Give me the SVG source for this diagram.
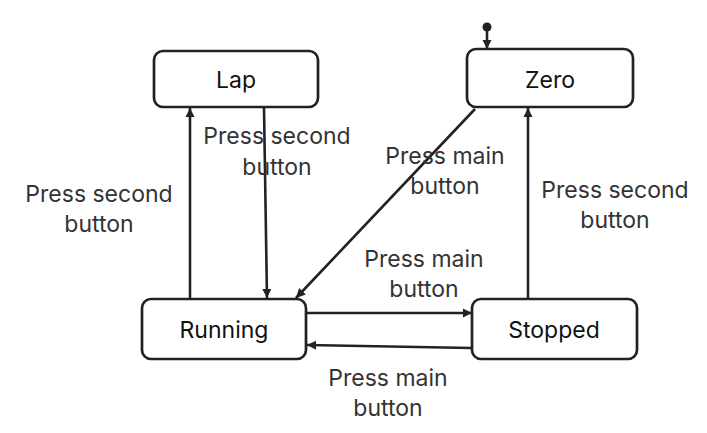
<svg xmlns="http://www.w3.org/2000/svg" width="707" height="433" viewBox="0 0 707 433">
<style>
.node rect{fill:#fff;stroke:#222;stroke-width:2.7}
.node text{font-family:Inter,"Liberation Sans",sans-serif;font-size:23px;fill:#111;text-anchor:middle}
.edge{fill:none;stroke:#222;stroke-width:2.6;marker-end:url(#arr)}
.lbl{font-family:Inter,"Liberation Sans",sans-serif;font-size:23px;fill:#333;text-anchor:middle}
</style>
<defs>
<marker id="arr" viewBox="0 0 10 10" refX="10" refY="5" markerWidth="3.6" markerHeight="3.6" orient="auto" markerUnits="strokeWidth">
<path d="M0,0 L10,5 L0,10 z" fill="#222"/>
</marker>
</defs>
<rect width="707" height="433" fill="#fff"/>
<g id="connectors">
<circle cx="487" cy="27" r="4.5" fill="#222"/>
<path class="edge" d="M487,31 L487,49"/>
<path class="edge" d="M190,299 L190,108"/>
<path class="edge" d="M264,108 L267,298"/>
<path class="edge" d="M475,109 L296,298"/>
<path class="edge" d="M306,313 L472,313"/>
<path class="edge" d="M472,348 L307,345"/>
<path class="edge" d="M528,299 L528,108"/>
</g>
<g id="labels">
<text class="lbl" x="99" y="202">Press second</text>
<text class="lbl" x="99" y="232">button</text>
<text class="lbl" x="277" y="144">Press second</text>
<text class="lbl" x="277" y="175">button</text>
<text class="lbl" x="445" y="164">Press main</text>
<text class="lbl" x="445" y="194">button</text>
<text class="lbl" x="615" y="198">Press second</text>
<text class="lbl" x="615" y="228">button</text>
<text class="lbl" x="424" y="267">Press main</text>
<text class="lbl" x="424" y="297">button</text>
<text class="lbl" x="388" y="386">Press main</text>
<text class="lbl" x="388" y="416">button</text>
</g>
<g id="lap" class="node"><rect x="154" y="51" width="164" height="56" rx="9"/><text x="236" y="88">Lap</text></g>
<g id="zero" class="node"><rect x="467" y="49" width="166" height="58" rx="9"/><text x="550" y="88">Zero</text></g>
<g id="running" class="node"><rect x="142" y="299" width="164" height="60" rx="9"/><text x="224" y="338">Running</text></g>
<g id="stopped" class="node"><rect x="472" y="299" width="165" height="60" rx="9"/><text x="554" y="338">Stopped</text></g>
</svg>
